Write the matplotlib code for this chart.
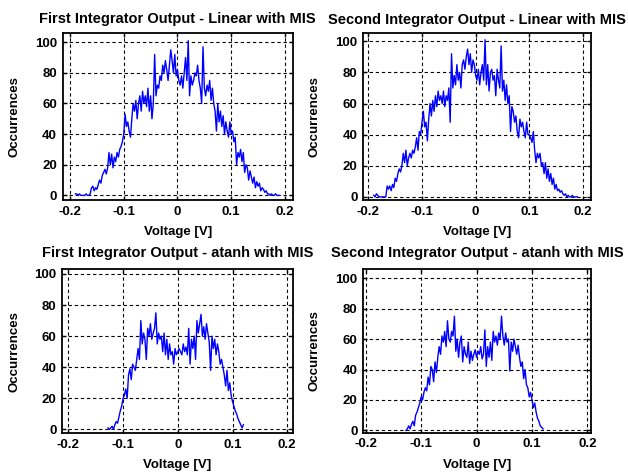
import numpy as np
import matplotlib
matplotlib.use('Agg')
import matplotlib.pyplot as plt

plt.rcParams['font.family'] = ['Liberation Sans', 'DejaVu Sans']
plt.rcParams['font.weight'] = 'bold'

# histogram counts (bin step 0.0025 V)
lin1_counts = [1, 1, 0, 1, 0, 0, 0, 0, 1, 0, 0, 1,
               5, 6, 3, 5, 4, 7, 10, 8, 13, 15, 17, 14,
               18, 28, 20, 27, 18, 25, 22, 28, 25, 30, 32, 35,
               40, 53, 45, 48, 42, 38, 50, 60, 55, 62, 50, 60,
               65, 55, 68, 60, 65, 58, 70, 55, 65, 50, 60, 92,
               65, 72, 70, 78, 75, 85, 80, 88, 82, 75, 85, 95,
               88, 80, 92, 78, 82, 75, 72, 78, 70, 80, 90, 75,
               101, 65, 78, 72, 75, 80, 78, 85, 75, 70, 60, 97,
               70, 65, 72, 68, 75, 62, 70, 60, 55, 42, 60, 48,
               55, 45, 52, 40, 48, 42, 38, 48, 40, 42, 35, 38,
               20, 28, 25, 30, 22, 28, 15, 20, 18, 10, 16, 12,
               8, 12, 5, 9, 6, 8, 3, 5, 4, 2, 3, 1,
               1, 0, 1, 0, 0, 1, 0, 0, 0]

lin2_counts = [1, 0, 2, 1, 0, 0, 0, 0, 0, 0, 7, 5,
               7, 4, 8, 6, 12, 10, 15, 18, 16, 20, 28, 22,
               30, 20, 25, 28, 25, 30, 28, 32, 38, 30, 42, 40,
               48, 55, 45, 48, 36, 50, 60, 52, 62, 55, 65, 58,
               68, 62, 65, 60, 68, 58, 65, 62, 70, 48, 92, 70,
               78, 72, 85, 75, 80, 70, 85, 88, 82, 90, 95, 85,
               92, 80, 88, 85, 78, 75, 82, 72, 80, 85, 75, 101,
               72, 85, 68, 80, 82, 75, 78, 65, 82, 75, 70, 97,
               68, 75, 62, 72, 60, 65, 42, 58, 55, 48, 52, 42,
               38, 50, 45, 48, 42, 38, 48, 40, 40, 38, 35, 42,
               30, 22, 28, 25, 28, 20, 22, 15, 22, 12, 18, 10,
               15, 8, 12, 5, 8, 4, 5, 3, 4, 2, 1, 2,
               0, 1, 0, 0, 1, 0, 0, 0, 0]

atanh1_counts = [1, 0, 1, 2, 0, 3, 5, 4, 8, 12, 15, 20,
                 22, 26, 20, 35, 39, 32, 42, 40, 38, 45, 52, 45,
                 70, 55, 62, 58, 45, 65, 60, 68, 58, 62, 65, 75,
                 55, 62, 58, 60, 50, 62, 48, 58, 45, 55, 48, 50,
                 42, 52, 48, 50, 52, 50, 48, 55, 50, 53, 48, 65,
                 42, 58, 52, 60, 45, 70, 62, 68, 74, 60, 66, 58,
                 68, 62, 56, 38, 60, 52, 58, 48, 55, 50, 42, 45,
                 40, 35, 28, 38, 25, 30, 22, 18, 15, 12, 10, 7,
                 5, 3, 1, 3]

atanh2_counts = [0, 1, 3, 1, 4, 6, 3, 10, 12, 15, 18, 22,
                 20, 25, 28, 26, 35, 30, 42, 40, 32, 45, 38, 48,
                 55, 50, 62, 58, 65, 55, 72, 60, 58, 65, 62, 75,
                 52, 60, 48, 58, 62, 45, 55, 50, 48, 58, 44, 52,
                 46, 50, 53, 48, 52, 50, 55, 47, 50, 66, 42, 55,
                 48, 58, 46, 65, 58, 62, 56, 64, 60, 75, 62, 56,
                 64, 58, 60, 39, 58, 52, 60, 55, 50, 56, 48, 42,
                 45, 34, 40, 30, 28, 22, 25, 20, 15, 18, 12, 8,
                 6, 3, 2, 1]

lin_range = (-0.19, 0.19)
atanh_range = (-0.1275, 0.12)

titles = ['First Integrator Output - Linear with MIS',
          'Second Integrator Output - Linear with MIS',
          'First Integrator Output - atanh with MIS',
          'Second Integrator Output - atanh with MIS']
xticks = [-0.2, -0.1, 0, 0.1, 0.2]
xtick_labels = ['-0.2', '-0.1', '0', '0.1', '0.2']
yticks = [0, 20, 40, 60, 80, 100]

W, H = 628, 473
fig = plt.figure(figsize=(W / 100, H / 100), dpi=100)

# (pixel box left, top, right, bottom), xlim, ylim, title pad
panels = [
    (lin1_counts, lin_range, (62.5, 33, 293, 200), (-0.214, 0.215), (-3, 106), 7),
    (lin2_counts, lin_range, (363, 33.5, 591, 200), (-0.21, 0.215), (-2, 105), 7),
    (atanh1_counts, atanh_range, (62.3, 269.3, 292.7, 433.3), (-0.211, 0.21), (-2.5, 103), 9),
    (atanh2_counts, atanh_range, (363, 269, 590.7, 432.7), (-0.205, 0.206), (-1.5, 106), 9),
]

for i, (counts, vr, box, xl, yl, tpad) in enumerate(panels):
    l, t, r, b = box
    ax = fig.add_axes([l / W, (H - b) / H, (r - l) / W, (b - t) / H])
    x = np.linspace(vr[0], vr[1], len(counts))
    ax.plot(x, counts, color='#0000ff', linewidth=1.0)

    ax.set_xlim(xl)
    ax.set_ylim(yl)
    ax.set_xticks(xticks)
    ax.set_xticklabels(xtick_labels)
    ax.set_yticks(yticks)
    ax.grid(True, color='k', linestyle=(0, (3, 2.5)), linewidth=0.8)
    ax.tick_params(direction='in', top=True, right=True, length=3,
                   width=1, labelsize=9.5, pad=4)
    for s in ax.spines.values():
        s.set_linewidth(1.3)

    ax.set_title(titles[i], fontsize=10.5, fontweight='bold', pad=tpad)
    ax.set_xlabel('Voltage [V]', fontsize=9.5, fontweight='bold')
    ax.set_ylabel('Occurrences', fontsize=9.5, fontweight='bold')
    ax.xaxis.set_label_coords(0.5, -26 / (b - t), transform=ax.transAxes)
    ax.yaxis.set_label_coords(-42 / (r - l), 0.5, transform=ax.transAxes)

fig.savefig('out.png', dpi=100)
